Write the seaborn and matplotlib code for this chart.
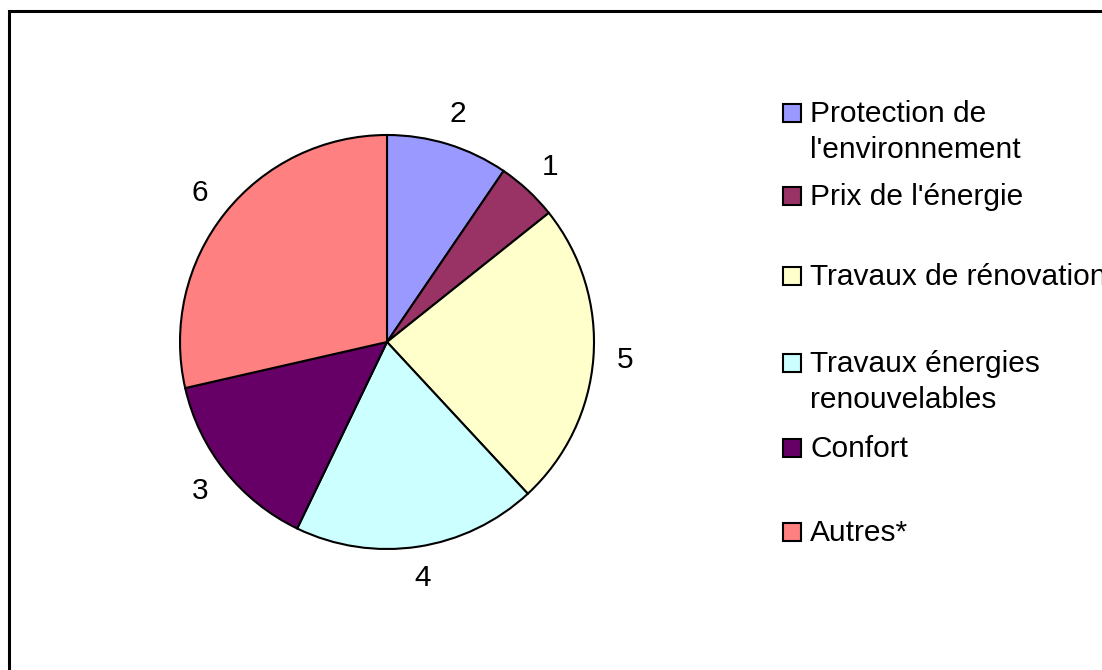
import matplotlib
matplotlib.use("Agg")
import matplotlib.pyplot as plt
import seaborn as sns
from matplotlib.patches import Rectangle

# --- Data
categories = ["Protection de\nl'environnement", "Prix de l'énergie", "Travaux de rénovation",
              "Travaux énergies\nrenouvelables", "Confort", "Autres*"]
values = [2, 1, 5, 4, 3, 6]
colors = ["#9999FF", "#993366", "#FFFFCC", "#CCFFFF", "#660066", "#FF8080"]

sns.set_theme(style="white")
plt.rcParams["font.family"] = ["Liberation Sans", "DejaVu Sans"]

W, H = 1102, 670
fig = plt.figure(figsize=(W / 100, H / 100), dpi=100)
fig.patch.set_facecolor("white")

# pie axes: centre (387, 342) px, radius 207 px
cx, cy, r = 387, 342, 207
ax = fig.add_axes([(cx - r) / W, (H - cy - r) / H, 2 * r / W, 2 * r / H])
wedges, texts = ax.pie(values, labels=[str(v) for v in values], colors=colors,
                       startangle=90, counterclock=False, labeldistance=1.155,
                       wedgeprops=dict(edgecolor="black", linewidth=1.5),
                       textprops=dict(fontsize=21.5, color="black"))
for t in texts:
    t.set_ha("center")
    t.set_va("center")
ax.set_xlim(-1, 1)
ax.set_ylim(-1, 1)
ax.set_aspect("auto")
ax.axis("off")

# --- legend, laid out by hand (uneven spacing as in the original)
baselines = [122, 205, 285, 372, 457, 541]
line_gap = 36
for lab, col, yb in zip(categories, colors, baselines):
    fig.patches.append(Rectangle((783 / W, (H - yb) / H), 18 / W, 18 / H,
                                 transform=fig.transFigure, facecolor=col,
                                 edgecolor="black", linewidth=1.5))
    for i, line in enumerate(lab.split("\n")):
        fig.text(810 / W, (H - yb - i * line_gap) / H, line, fontsize=21.5,
                 ha="left", va="baseline", color="black")

# chart frame (only top and left edges visible in the crop)
fig.patches.append(Rectangle((8.5 / W, -0.1), 1.2, (H - 11) / H + 0.1,
                             transform=fig.transFigure, facecolor="none",
                             edgecolor="black", linewidth=2.2))

fig.savefig("out.png", dpi=100)
